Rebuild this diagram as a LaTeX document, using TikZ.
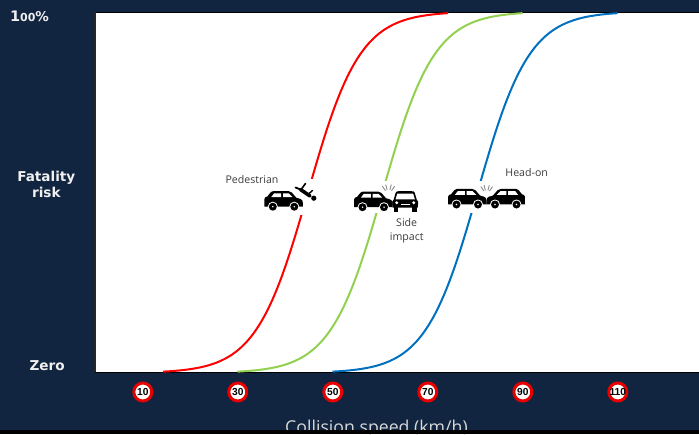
\documentclass[tikz,border=0pt]{standalone}
\usepackage{fontspec}
\setmainfont{Open Sans}
\newfontfamily\labfont{DejaVu Sans}
\newfontfamily\signfont{Liberation Sans}
\definecolor{navy}{RGB}{17,37,64}
\definecolor{cred}{RGB}{255,0,0}
\definecolor{cgreen}{RGB}{146,208,80}
\definecolor{cblue}{RGB}{0,112,192}
\definecolor{signred}{RGB}{232,0,0}
\definecolor{labgray}{RGB}{60,60,60}
\definecolor{axtext}{RGB}{240,240,240}
\definecolor{xtext}{RGB}{215,215,215}
\definecolor{impactgray}{RGB}{140,140,140}
\newcommand\mycarside{%
    \fill[black] (0,15.8) -- (0.2,8) .. controls (0.4,6.5) and (1.5,6) .. (3,5.8) -- (6.5,1.5)
      .. controls (7,0.6) and (8,0.3) .. (9,0.3) -- (24,0.3) .. controls (25.5,0.3) and (26.5,0.8) .. (27.5,1.8)
      -- (32,7) -- (36,8.2) .. controls (37.8,8.8) and (38.5,10) .. (38.5,12) -- (38.5,15.8) -- cycle;
    \fill[white] (7,6.3) -- (9.8,2.6) -- (16.9,2.6) -- (16.9,6.3) -- cycle;
    \fill[white] (18.7,2.6) -- (24.4,2.6) -- (28.2,6.3) -- (18.7,6.3) -- cycle;
    \fill[white] (8.5,16) circle (5);
    \fill[white] (30,16) circle (5);
    \fill[black] (8.5,16) circle (4);
    \fill[black] (30,16) circle (4);
    \fill[white] (8.5,16) circle (0.8);
    \fill[white] (30,16) circle (0.8);
}
\newcommand\mycarfront{%
    \fill[black] (1,17) -- (0.5,11) .. controls (0.5,9.5) and (1,9) .. (2,8.8) -- (4,2)
      .. controls (4.5,0.8) and (5.5,0.5) .. (7,0.5) -- (20,0.5) .. controls (21.5,0.5) and (22.5,0.8) .. (23,2)
      -- (25,8.8) .. controls (26,9) and (26.5,9.5) .. (26.5,11) -- (26,17) -- cycle;
    \fill[black] (2,16) rectangle (6.5,21);
    \fill[black] (20.5,16) rectangle (25,21);
    \fill[white] (5.6,3) -- (21.4,3) -- (23.2,8.6) -- (3.8,8.6) -- cycle;
    \fill[white] (5,12) circle (1.6);
    \fill[white] (22,12) circle (1.6);
    \fill[white] (9,13.6) rectangle (18,14.4);
}
\tikzset{
  axlab/.style={text=axtext, font=\labfont\bfseries\fontsize{13.6}{16}\selectfont, inner sep=0pt, anchor=base},
  curvelab/.style={text=labgray, font=\fontsize{10.6}{13}\selectfont, inner sep=0pt, anchor=base},
  signnode/.style={circle, draw=signred, line width=3pt, fill=white, minimum size=18pt, inner sep=0pt,
     font=\signfont\bfseries\fontsize{10.2}{10}\selectfont},
  riskcurve/.style={line width=2pt},
  impact/.style={impactgray, line width=0.9pt, line cap=round}
}
\begin{document}
\begin{tikzpicture}[x=1pt,y=-1pt]
\useasboundingbox (0,0) rectangle (699,434);
\fill[navy] (0,0) rectangle (699,434);
% plot area
\fill[white] (95,13) rectangle (699,372);
\draw[black, line width=0.8pt] (95,12.6) -- (699,12.6);
\draw[black!85, line width=1.5pt] (95.2,12.3) -- (95.2,373);
\draw[black, line width=1.6pt] (95,372.3) -- (699,372.3);
% curves
\foreach \c/\col in {308/cred,382.5/cgreen,477.5/cblue}
  \draw[riskcurve, \col] plot[domain=\c-145:\c+140, samples=140, smooth]
    (\x,{373-361.5/(1+exp(-(\x-\c)/26))});
% icon backgrounds
\fill[white] (261,179) rectangle (319,214.5);
\fill[white] (352,181) rectangle (420,212.5);
\fill[white] (446,181) rectangle (527,213);
% pedestrian icon
\begin{scope}[shift={(264.3,190.7)}]\mycarside\end{scope}
\draw[black, line width=3.6pt, line cap=round] (300.5,189.5) -- (310,196);
\fill[black] (313.8,198.2) circle (2.6);
\draw[black, line width=1.8pt, line cap=round] (300.5,189.5) -- (295.5,187.5);
\draw[black, line width=1.6pt, line cap=round] (301.5,189) -- (305.5,183.5);
\draw[black, line width=1.4pt, line cap=round] (308,194.5) -- (312.5,190.5);
% side impact icon
\begin{scope}[shift={(354,191.2)}]\mycarside\end{scope}
\begin{scope}[shift={(391.7,190.7)}]\mycarfront\end{scope}
\foreach \a in {235,255,285,305}
  \draw[impact] (388.5,195) ++(\a:5.5) -- ++(\a:5);
% head-on icon
\begin{scope}[shift={(448,188.5)}]\mycarside\end{scope}
\begin{scope}[shift={(525,188.5)}, xscale=-1]\mycarside\end{scope}
\foreach \a in {235,255,285,305}
  \draw[impact] (486.7,195) ++(\a:5) -- ++(\a:5);
% curve labels
\node[curvelab] (ped) at (252,183) {Pedestrian};
\node[curvelab] (side1) at (406.7,226.5) {Side};
\node[curvelab] (side2) at (406.7,240) {impact};
\node[curvelab] (head) at (526.7,176.5) {Head-on};
% axis labels
\node[text=axtext, font=\labfont\bfseries, inner sep=0pt, anchor=base] (pct) at (29.5,21.5)
  {\fontsize{14.5}{16}\selectfont 1{\fontsize{11}{12}\selectfont 00}\fontsize{13.5}{16}\selectfont\%};
\node[axlab] (fat) at (46.3,181.6) {Fatality};
\node[axlab] (risk) at (46.3,197.4) {risk};
\node[axlab] (zero) at (47.2,370.3) {Zero};
% speed signs
\foreach \v [count=\i from 0] in {10,30,50,70,90,110}
  \node[signnode] (s\v) at ({142.8+95*\i},392) {\makebox[0pt][c]{\v}};
% x label, clipped by the bottom strip
\node[text=xtext, font=\fontsize{17.7}{20}\selectfont, inner sep=0pt, anchor=base] (xlab) at (376.5,433.8) {Collision speed (km/h)};
\fill[black] (0,429.5) rectangle (699,434);
\end{tikzpicture}
\end{document}
